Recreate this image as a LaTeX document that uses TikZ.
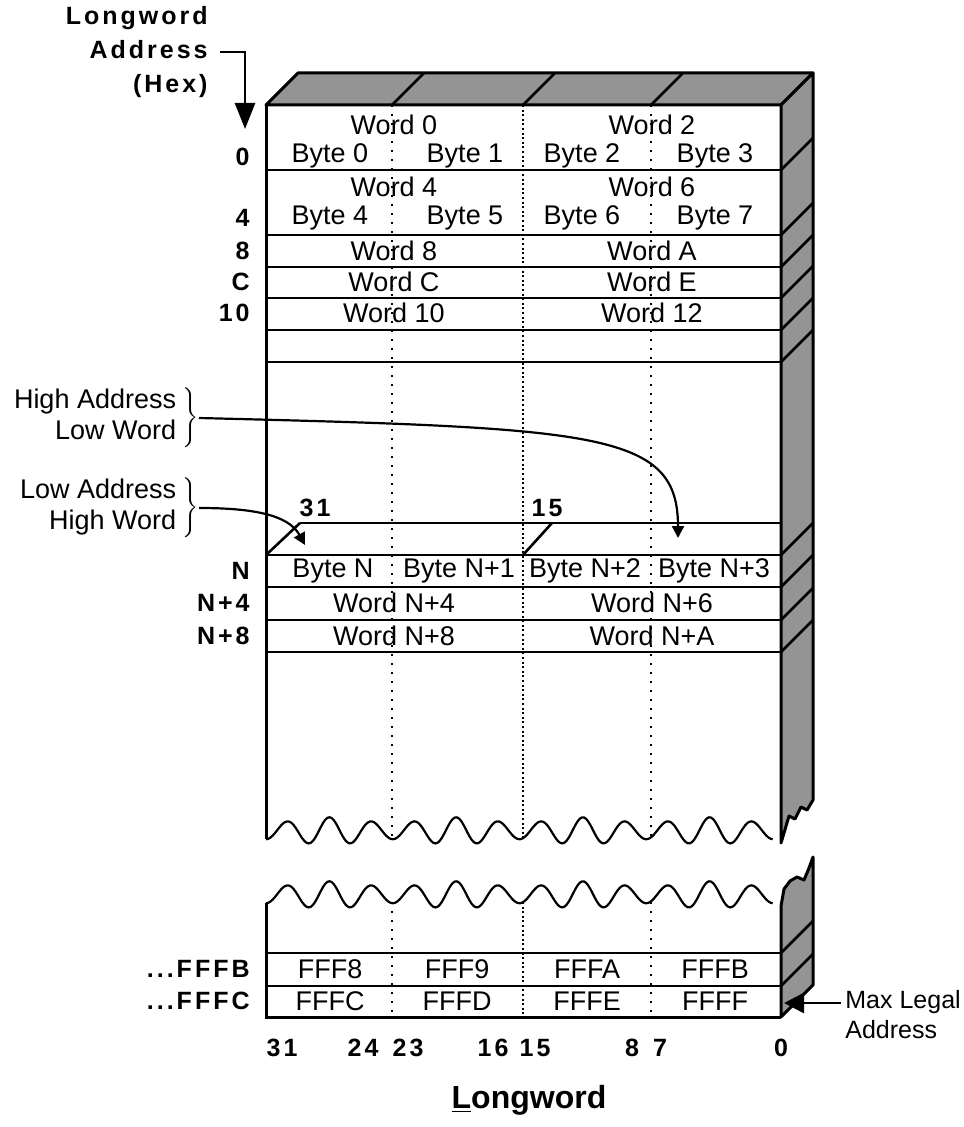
\documentclass[tikz,border=0pt]{standalone}
\usepackage{fontspec}
\setmainfont{Liberation Sans}
\newfontfamily\lblfont[LetterSpace=12]{Liberation Sans}
\usepackage{tikz}
\usetikzlibrary{arrows.meta}

\begin{document}
\begin{tikzpicture}[x=0.5pt, y=-0.5pt,
  blockface/.style={draw, line width=1.5pt, fill=black!42, line join=round},
  frontedge/.style={line width=1.5pt},
  rowline/.style={line width=1.3pt},
  thinrow/.style={line width=0.7pt},
  bytediv/.style={line width=1pt, dash pattern=on 1pt off 3.5pt},
  halfdiv/.style={line width=1pt, dash pattern=on 1pt off 1.3pt},
  wavyline/.style={line width=1.1pt},
  cell/.style={font=\fontsize{13.5}{15}\selectfont, inner sep=0pt},
  addr/.style={font=\lblfont\bfseries\fontsize{12.5}{14}\selectfont, anchor=east, inner sep=0pt},
  bitnum/.style={font=\lblfont\bfseries\fontsize{12.5}{14}\selectfont, inner sep=0pt},
  brlbl/.style={anchor=east, inner sep=0pt, font=\fontsize{13.5}{15.5}\selectfont},
  conn/.style={line width=1.1pt, -{Triangle[length=6pt,width=6pt]}},
  addrarrow/.style={line width=1.3pt, -{Triangle[length=13pt,width=10pt]}},
  maxarrow/.style={line width=1.3pt, -{Triangle[length=10pt,width=10pt]}}
]
\useasboundingbox (0,0) rectangle (963,1127);

\draw[bytediv] (392,105) -- (392,838) (392,902) -- (392,1017);
\draw[halfdiv] (523,105) -- (523,838) (523,902) -- (523,1017);
\draw[bytediv] (651,105) -- (651,838) (651,902) -- (651,1017);

\draw[rowline] (266,170) -- (781,170) (266,235) -- (781,235) (266,267) -- (781,267)
  (266,298) -- (781,298) (266,330) -- (781,330) (266,362) -- (781,362)
  (266,555) -- (781,555) (266,587) -- (781,587) (266,620) -- (781,620)
  (266,652) -- (781,652) (266,953) -- (781,953) (266,986) -- (781,986);
\draw[thinrow] (300,523) -- (781,523);
\draw[rowline] (266,555) -- (300,523) (523,555) -- (552,523);

\draw[frontedge] (266,105) -- (266,839);
\draw[frontedge] (266,903) -- (266,1017) -- (781,1017);

\draw[wavyline] plot[domain=0:1, samples=240] ({266+507*\x}, {831+11*cos(12*360*\x)*(1-0.25*cos(4*360*\x))});
\draw[wavyline] plot[domain=0:1, samples=240] ({266+507*\x}, {895+11*cos(12*360*\x)*(1-0.25*cos(4*360*\x))});

\draw[blockface] (266,105) -- (298,73) -- (813,73) -- (781,105) -- cycle;
\draw[blockface] (781,105) -- (813,73) -- (813,800) -- (807,810) -- (801,807) -- (795,819)
  -- (789,816) -- (784,833) -- (781,843) -- cycle;
\draw[blockface] (781,906) -- (784,889) -- (790,881) -- (797,877) -- (804,880) -- (809,868)
  -- (813,857) -- (813,985) -- (781,1017) -- cycle;
\draw[rowline] (392,105) -- (424,73) (523,105) -- (555,73) (651,105) -- (683,73);
\draw[rowline] (781,170) -- (813,138) (781,235) -- (813,203) (781,267) -- (813,235)
  (781,298) -- (813,266) (781,330) -- (813,298) (781,362) -- (813,330)
  (781,555) -- (813,523) (781,587) -- (813,555) (781,620) -- (813,588)
  (781,652) -- (813,620) (781,953) -- (813,921) (781,986) -- (813,954);

\node[cell] (w0) at (394,125) {Word 0};
\node[cell] (w2) at (652,125) {Word 2};
\node[cell] (b0) at (330,156) {Byte 0};
\node[cell] (b1) at (465,156) {Byte 1};
\node[cell] (b2) at (582,156) {Byte 2};
\node[cell] (b3) at (715,156) {Byte 3};
\node[cell] (w4) at (394,187) {Word 4};
\node[cell] (w6) at (652,187) {Word 6};
\node[cell] (b4) at (330,218) {Byte 4};
\node[cell] (b5) at (465,218) {Byte 5};
\node[cell] (b6) at (582,218) {Byte 6};
\node[cell] (b7) at (715,218) {Byte 7};
\node[cell] (w8) at (394,251) {Word 8};
\node[cell] (wa) at (652,251) {Word A};
\node[cell] (wc) at (394,282) {Word C};
\node[cell] (we) at (652,282) {Word E};
\node[cell] (w10) at (394,313) {Word 10};
\node[cell] (w12) at (652,313) {Word 12};
\node[cell] (bn) at (333,571) {Byte N};
\node[cell] (bn1) at (459,571) {Byte N+1};
\node[cell] (bn2) at (585,571) {Byte N+2};
\node[cell] (bn3) at (714,571) {Byte N+3};
\node[cell] (wn4) at (394,603) {Word N+4};
\node[cell] (wn6) at (652,603) {Word N+6};
\node[cell] (wn8) at (394,636) {Word N+8};
\node[cell] (wna) at (652,636) {Word N+A};
\node[cell] (f8) at (330,969) {FFF8};
\node[cell] (f9) at (457,969) {FFF9};
\node[cell] (fa) at (587,969) {FFFA};
\node[cell] (fb) at (715,969) {FFFB};
\node[cell] (fc) at (330,1001) {FFFC};
\node[cell] (fd) at (457,1001) {FFFD};
\node[cell] (fe) at (587,1001) {FFFE};
\node[cell] (ff) at (715,1001) {FFFF};

\node[addr] (a0) at (250,157) {0};
\node[addr] (a4) at (250,218) {4};
\node[addr] (a8) at (250,251) {8};
\node[addr] (ac) at (250,282) {C};
\node[addr] (a10) at (250,313) {10};
\node[addr] (an) at (250,571) {N};
\node[addr] (an4) at (250,603) {N+4};
\node[addr] (an8) at (250,636) {N+8};
\node[addr] (afffb) at (250,969) {...FFFB};
\node[addr] (afffc) at (250,1001) {...FFFC};

\node[bitnum] (top31) at (315,508) {31};
\node[bitnum] (top15) at (547,508) {15};
\node[bitnum] (bit31) at (282,1048) {31};
\node[bitnum] (bit24) at (363,1048) {24};
\node[bitnum] (bit23) at (408,1048) {23};
\node[bitnum] (bit16) at (493,1048) {16};
\node[bitnum] (bit15) at (535,1048) {15};
\node[bitnum] (bit8) at (632,1048) {8};
\node[bitnum] (bit7) at (660,1048) {7};
\node[bitnum] (bit0) at (781,1048) {0};

\node[addr, align=right, font=\lblfont\bfseries\fontsize{12.5}{17}\selectfont] (hexlbl) at (208,52) {Longword\\Address\\(Hex)};
\coordinate (hextip) at (245,129);
\draw[addrarrow] ([xshift=6pt]hexlbl.east) -| (hextip);

\node[brlbl] (hiaddr) at (199,418) {\begin{tabular}{@{}r@{}}High Address\\Low Word\end{tabular}\hspace{2pt}$\left.\vphantom{\begin{tabular}{c}X\\X\end{tabular}}\right\}$};
\node[brlbl] (loaddr) at (199,508) {\begin{tabular}{@{}r@{}}Low Address\\High Word\end{tabular}\hspace{2pt}$\left.\vphantom{\begin{tabular}{c}X\\X\end{tabular}}\right\}$};
\coordinate (hitip) at (678,538);
\coordinate (lotip) at (305,545);
\draw[conn] (hiaddr.east) .. controls (600,428) and (678,432) .. (hitip);
\draw[conn] (loaddr.east) .. controls (250,508) and (288,514) .. (lotip);

\node[cell, anchor=west, align=left, inner sep=2pt, font=\fontsize{12.5}{15}\selectfont] (maxlbl) at (841,1015) {Max Legal\\Address};
\coordinate (maxtip) at (784,1003);
\draw[maxarrow] (maxlbl.west |- maxtip) -- (maxtip);

\node[font=\bfseries\fontsize{16}{19}\selectfont] (title) at (529,1100) {\underline{L}ongword};
\end{tikzpicture}
\end{document}
